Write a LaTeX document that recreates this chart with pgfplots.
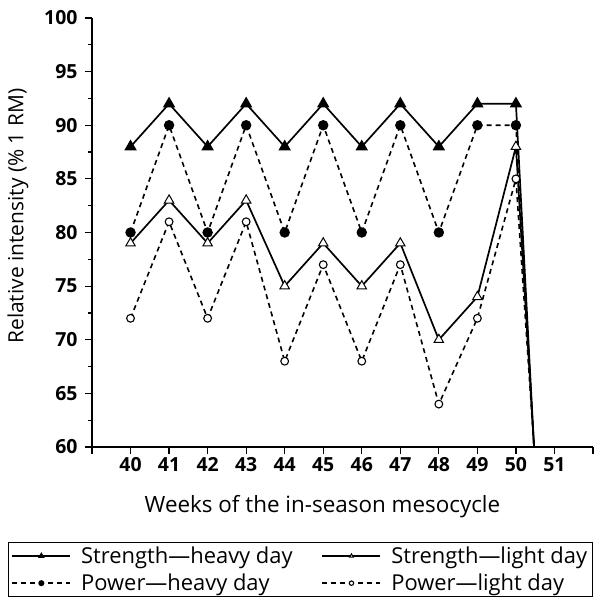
\documentclass[border=0pt]{standalone}
\usepackage{fontspec}
\setmainfont{Open Sans}
\usepackage{pgfplots}
\pgfplotsset{compat=1.18}
\begin{document}
\begin{tikzpicture}
\begin{axis}[
  scale only axis,
  width=501bp, height=429bp,
  xmin=39, xmax=52, ymin=60, ymax=100,
  axis x line=bottom, axis y line=left,
  axis line style={-, line width=1.3bp},
  xtick={39,40,41,42,43,44,45,46,47,48,49,50,51,52},
  xticklabels={,40,41,42,43,44,45,46,47,48,49,50,51,},
  ytick={60,65,70,75,80,85,90,95,100},
  minor y tick num=1,
  tick align=outside,
  major tick length=7bp, minor tick length=4bp,
  tick style={line width=1.2bp, black},
  /pgf/number format/assume math mode=true,
  ticklabel style={font=\fontsize{19.5}{22}\selectfont\bfseries},
  yticklabel style={xshift=-4bp},
  xlabel={Weeks of the in-season mesocycle},
  ylabel={Relative intensity (\% 1 RM)},
  label style={font=\fontsize{21}{24}\selectfont},
  xlabel style={at={(axis description cs:0.46,-0.14)}, anchor=center, font=\fontsize{22.5}{24}\selectfont},
  ylabel style={at={(axis description cs:-0.148,0.538)}, anchor=center},
  clip=false,
  legend columns=2,
  legend cell align=left,
  legend style={at={(-0.1677,-0.2214)}, anchor=north west,
    draw=black, line width=1bp,
    font=\fontsize{22}{25}\selectfont,
    row sep=5bp,
    /tikz/every odd column/.append style={column sep=8bp},
    /tikz/every even column/.append style={column sep=27bp},
    inner xsep=3bp, inner ysep=2.5bp},
  legend image code/.code={%
    \draw[#1, mark size=2.2pt, mark indices={2}] plot coordinates {(0bp,0bp) (29bp,0bp) (58bp,0bp)};},
]
% Strength heavy
\addplot[black, line width=1.7bp, mark=triangle*, mark size=5.5pt, mark indices={1,...,11}, mark options={solid, fill=black}]
 coordinates {(40,88) (41,92) (42,88) (43,92) (44,88) (45,92) (46,88) (47,92) (48,88) (49,92) (50,92) (50.47,60)};
\addlegendentry{Strength---heavy day}
% Strength light
\addplot[black, line width=1.7bp, mark=triangle*, mark size=5.5pt, mark indices={1,...,11}, mark options={solid, fill=white, line width=1bp}]
 coordinates {(40,79) (41,83) (42,79) (43,83) (44,75) (45,79) (46,75) (47,79) (48,70) (49,74) (50,88) (50.47,60)};
\addlegendentry{Strength---light day}
% Power heavy
\addplot[black, line width=1.6bp, dash pattern=on 5bp off 4bp, mark=*, mark size=4.4pt, mark indices={1,...,11}, mark options={solid, fill=black}]
 coordinates {(40,80) (41,90) (42,80) (43,90) (44,80) (45,90) (46,80) (47,90) (48,80) (49,90) (50,90) (50.47,60)};
\addlegendentry{Power---heavy day}
% Power light
\addplot[black, line width=1.6bp, dash pattern=on 5bp off 4bp, mark=*, mark size=3.9pt, mark indices={1,...,11}, mark options={solid, fill=white, line width=1.1bp}]
 coordinates {(40,72) (41,81) (42,72) (43,81) (44,68) (45,77) (46,68) (47,77) (48,64) (49,72) (50,85) (50.47,60)};
\addlegendentry{Power---light day}
\end{axis}
\path ([xshift=-92bp,yshift=18bp]current axis.north west) rectangle ([xshift=13bp,yshift=-155bp]current axis.south east);
\end{tikzpicture}
\end{document}
